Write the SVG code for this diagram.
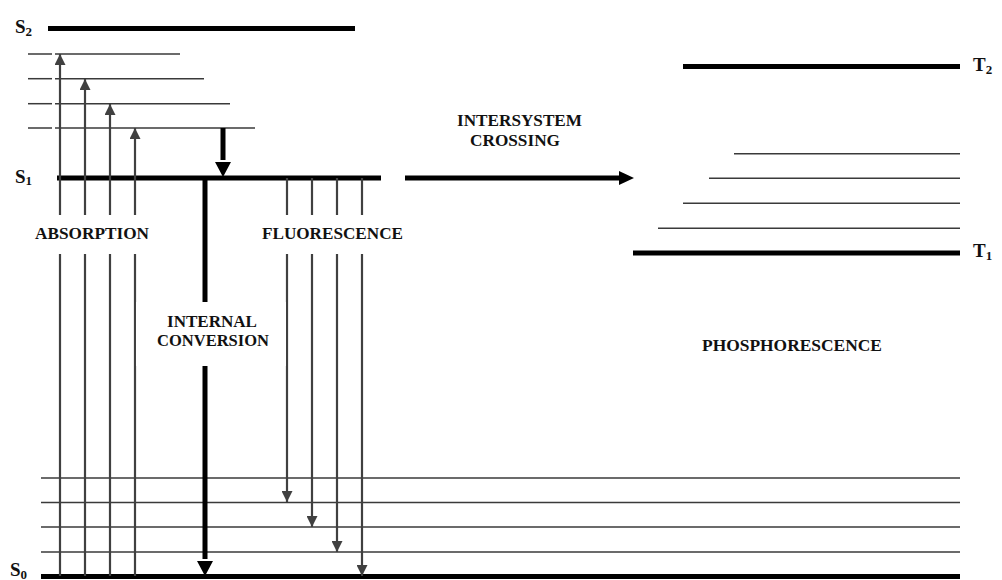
<svg xmlns="http://www.w3.org/2000/svg" width="1002" height="580" viewBox="0 0 1002 580">
<style>
.lvl{stroke:#000;stroke-width:5;fill:none}
.vib{stroke:#3a3a3a;stroke-width:1.5;fill:none}
.thin{stroke:#404040;stroke-width:2.2;fill:none}
.thick{stroke:#000;stroke-width:5;fill:none}
.lbl{font-family:"Liberation Serif","Times New Roman",serif;font-weight:bold;font-size:17px;fill:#111}
.st{font-family:"Liberation Serif","Times New Roman",serif;font-weight:bold;font-size:19px;fill:#111}
.sub{font-size:13px}
</style>
<defs>
<marker id="ah" markerUnits="userSpaceOnUse" markerWidth="11" markerHeight="11" refX="11" refY="5.5" orient="auto">
<path d="M0,0 L11,5.5 L0,11 z" fill="#404040"/>
</marker>
</defs>
<rect width="1002" height="580" fill="#fff"/>

<g id="levels">
<g id="S2"><line class="lvl" x1="48" y1="28.5" x2="355" y2="28.5"/><text class="st" x="15" y="33">S<tspan class="sub" dy="3">2</tspan></text></g>
<g id="S2-vib">
<line class="vib" x1="28" y1="54" x2="52" y2="54"/><line class="vib" x1="55" y1="54" x2="180" y2="54"/>
<line class="vib" x1="28" y1="78.7" x2="52" y2="78.7"/><line class="vib" x1="55" y1="78.7" x2="204" y2="78.7"/>
<line class="vib" x1="28" y1="103.7" x2="52" y2="103.7"/><line class="vib" x1="55" y1="103.7" x2="230" y2="103.7"/>
<line class="vib" x1="28" y1="128" x2="52" y2="128"/><line class="vib" x1="55" y1="128" x2="255" y2="128"/>
</g>
<g id="S1"><line class="lvl" x1="57" y1="178" x2="381" y2="178"/><text class="st" x="15" y="183">S<tspan class="sub" dy="2">1</tspan></text></g>
<g id="S0-vib">
<line class="vib" x1="41" y1="478" x2="960" y2="478"/>
<line class="vib" x1="41" y1="502.5" x2="960" y2="502.5"/>
<line class="vib" x1="41" y1="527" x2="960" y2="527"/>
<line class="vib" x1="41" y1="552" x2="960" y2="552"/>
</g>
<g id="S0"><line class="lvl" x1="41" y1="576.5" x2="960" y2="576.5"/><text class="st" x="10" y="576">S<tspan class="sub" dy="3">0</tspan></text></g>
<g id="T2"><line class="lvl" x1="683" y1="66.5" x2="960" y2="66.5"/><text class="st" x="973" y="71">T<tspan class="sub" dy="3">2</tspan></text></g>
<g id="T1-vib">
<line class="vib" x1="734" y1="153.7" x2="960" y2="153.7"/>
<line class="vib" x1="709" y1="178.3" x2="960" y2="178.3"/>
<line class="vib" x1="683" y1="203.3" x2="960" y2="203.3"/>
<line class="vib" x1="658" y1="228.3" x2="960" y2="228.3"/>
</g>
<g id="T1"><line class="lvl" x1="633" y1="253" x2="960" y2="253"/><text class="st" x="973" y="257">T<tspan class="sub" dy="3">1</tspan></text></g>
</g>

<g id="connectors">
<g id="absorption-arrows">
<line class="thin" x1="60" y1="576" x2="60" y2="254"/><line class="thin" x1="60" y1="215" x2="60" y2="54" marker-end="url(#ah)"/>
<line class="thin" x1="85" y1="576" x2="85" y2="254"/><line class="thin" x1="85" y1="215" x2="85" y2="79" marker-end="url(#ah)"/>
<line class="thin" x1="110" y1="576" x2="110" y2="254"/><line class="thin" x1="110" y1="215" x2="110" y2="104" marker-end="url(#ah)"/>
<line class="thin" x1="135" y1="576" x2="135" y2="254"/><line class="thin" x1="135" y1="215" x2="135" y2="128" marker-end="url(#ah)"/>
</g>
<g id="fluorescence-arrows">
<line class="thin" x1="287" y1="178" x2="287" y2="215"/><line class="thin" x1="287" y1="254" x2="287" y2="502" marker-end="url(#ah)"/>
<line class="thin" x1="312" y1="178" x2="312" y2="215"/><line class="thin" x1="312" y1="254" x2="312" y2="527" marker-end="url(#ah)"/>
<line class="thin" x1="337" y1="178" x2="337" y2="215"/><line class="thin" x1="337" y1="254" x2="337" y2="552" marker-end="url(#ah)"/>
<line class="thin" x1="362" y1="178" x2="362" y2="215"/><line class="thin" x1="362" y1="254" x2="362" y2="576" marker-end="url(#ah)"/>
</g>
<g id="vibrational-relaxation">
<line class="thick" x1="223" y1="128" x2="223" y2="160"/>
<polygon points="215,162 231,162 223,177" fill="#000"/>
</g>
<g id="internal-conversion-arrow">
<line class="thick" x1="205" y1="178" x2="205" y2="302"/>
<line class="thick" x1="205" y1="366" x2="205" y2="559"/>
<polygon points="197,561 213,561 205,576" fill="#000"/>
</g>
<g id="isc-arrow">
<line class="thick" x1="405" y1="178" x2="620" y2="178"/>
<polygon points="619,171 634,178 619,185" fill="#000"/>
</g>
</g>

<g id="labels">
<g id="internal-conversion"><rect x="136" y="302" width="150" height="64" fill="#fff"/>
<text class="lbl" x="167" y="326.5" textLength="90" lengthAdjust="spacingAndGlyphs">INTERNAL</text>
<text class="lbl" x="157" y="346" textLength="112" lengthAdjust="spacingAndGlyphs">CONVERSION</text></g>
<text id="absorption" class="lbl" x="35" y="239" textLength="114" lengthAdjust="spacingAndGlyphs">ABSORPTION</text>
<text id="fluorescence" class="lbl" x="262" y="239" textLength="141" lengthAdjust="spacingAndGlyphs">FLUORESCENCE</text>
<g id="intersystem-crossing">
<text class="lbl" x="457" y="125.5" textLength="125" lengthAdjust="spacingAndGlyphs">INTERSYSTEM</text>
<text class="lbl" x="470" y="145.5" textLength="90" lengthAdjust="spacingAndGlyphs">CROSSING</text></g>
<text id="phosphorescence" class="lbl" x="702" y="351" textLength="180" lengthAdjust="spacingAndGlyphs">PHOSPHORESCENCE</text>
</g>
</svg>
